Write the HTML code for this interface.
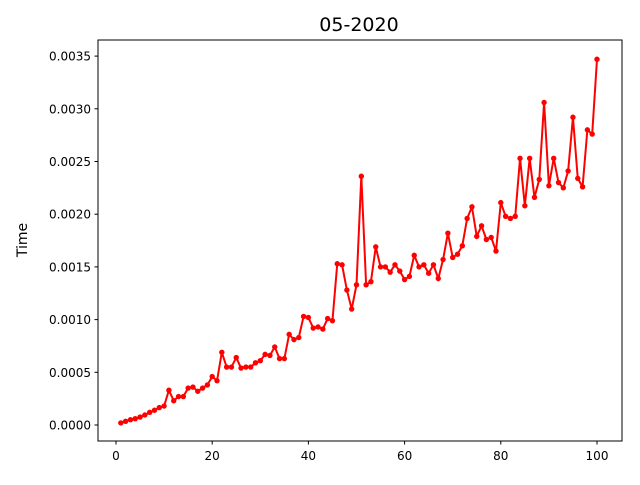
<!DOCTYPE html>
<html><head><meta charset="utf-8"><style>
body{margin:0;background:#fff;font-family:"Liberation Sans","DejaVu Sans",sans-serif}
svg text{font-family:"DejaVu Sans","Liberation Sans",sans-serif}
</style></head><body>
<svg id="chart" width="640" height="480" xmlns="http://www.w3.org/2000/svg">
<rect width="640" height="480" fill="#fff"/>
<text x="359" y="31" font-size="19" text-anchor="middle">05-2020</text>
<text transform="translate(27,240) rotate(-90)" font-size="14" text-anchor="middle">Time</text>
<g id="axes"></g>
<g id="plot"></g>
<rect x="98" y="40" width="524" height="401" fill="none" stroke="#000" stroke-width="1"/>
</svg>
<script>
const xTicks=[0,20,40,60,80,100];
const yTicks=[0,0.0005,0.001,0.0015,0.002,0.0025,0.003,0.0035];
const yTickLabels=["0.0000","0.0005","0.0010","0.0015","0.0020","0.0025","0.0030","0.0035"];
const times=[0.2,0.35,0.5,0.6,0.75,0.95,1.2,1.4,1.65,1.8,3.3,2.3,2.7,2.7,3.5,3.6,3.2,3.5,3.8,4.6,4.2,6.9,5.5,5.5,6.4,5.4,5.5,5.5,5.9,6.1,6.7,6.6,7.4,6.3,6.3,8.6,8.1,8.3,10.3,10.2,9.2,9.3,9.1,10.1,9.9,15.3,15.2,12.8,11.0,13.3,23.6,13.3,13.6,16.9,15.0,15.0,14.5,15.2,14.6,13.8,14.1,16.1,15.0,15.2,14.4,15.2,13.9,15.7,18.2,15.9,16.2,17.0,19.6,20.7,17.9,18.9,17.6,17.8,16.5,21.1,19.8,19.6,19.8,25.3,20.8,25.3,21.6,23.3,30.6,22.7,25.3,23.0,22.5,24.1,29.2,23.4,22.6,28.0,27.6,34.7].map(v=>v*1e-4);
const xs=times.map((_,i)=>i+1);
const NS="http://www.w3.org/2000/svg";
const X=v=>116+v*4.81;
const Y=v=>425-v/0.0005*52.7;
const axes=document.getElementById('axes'),plot=document.getElementById('plot');
function mk(t,a,p){const e=document.createElementNS(NS,t);for(const k in a)e.setAttribute(k,a[k]);p.appendChild(e);return e;}
xTicks.forEach(v=>{
  const l=mk('line',{x1:X(v),x2:X(v),y1:441,y2:444.5,stroke:'#000'},axes);
  
  
  const t=mk('text',{x:X(v),y:460,'font-size':12,'text-anchor':'middle'},axes);t.textContent=v;
  
  
});
yTicks.forEach((v,i)=>{
  const l=mk('line',{x1:94.5,x2:98,y1:Y(v),y2:Y(v),stroke:'#000'},axes);
  
  
  const t=mk('text',{x:91,y:Y(v)+4.5,'font-size':12,'text-anchor':'end'},axes);t.textContent=yTickLabels[i];
  
  
});
const line=mk('polyline',{points:xs.map((x,i)=>X(x)+','+Y(times[i])).join(' '),fill:'none',stroke:'#ff0000','stroke-width':2},plot);


xs.forEach((x,i)=>{
  const c=mk('circle',{cx:X(x),cy:Y(times[i]),r:2.7,fill:'#ff0000'},plot);
  
  
});
</script>
</body></html>
